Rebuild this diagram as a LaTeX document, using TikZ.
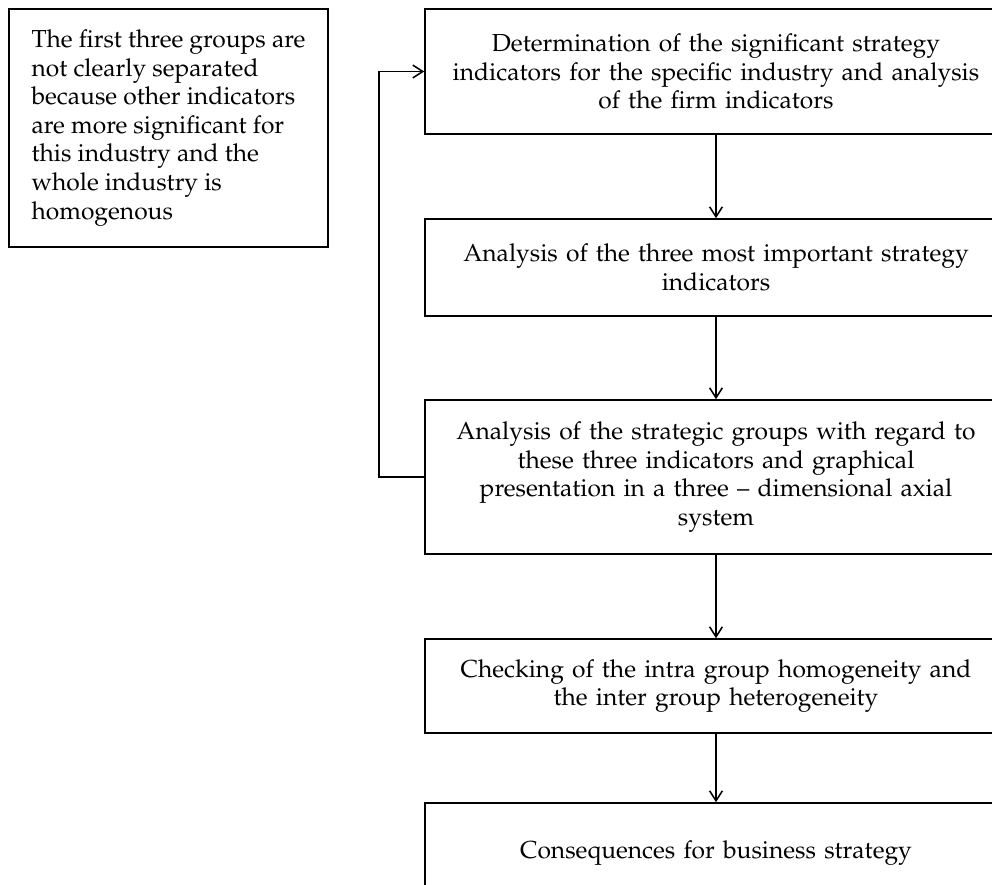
\documentclass[tikz,border=0pt]{standalone}
\usepackage[T1]{fontenc}
\usepackage{mathpazo}
\usetikzlibrary{arrows.meta}

\begin{document}
\begin{tikzpicture}[
			stage/.style = {draw, line width=1.1pt, minimum width=14.55cm, text width=14cm, inner xsep=0.275cm, align=center, font=\fontsize{17.5}{20.3}\selectfont},
			note/.style = {draw, line width=1.1pt, minimum width=7.975cm, minimum height=5.95cm, align=left, font=\fontsize{17.5}{20.3}\selectfont},
			flow/.style = {-{Straight Barb[length=2.5mm, width=3.2mm]}, line width=1.1pt}]
			\useasboundingbox (0,0) rectangle (24.8,-22.1);

			\node[note] (remark) at (4.2125,-3.2) {The first three groups are\\not clearly separated\\because other indicators\\are more significant for\\this industry and the\\whole industry is\\homogenous};

			\node[stage, minimum height=3.125cm] (indicators) at (17.9,-1.7875) {Determination of the significant strategy\\indicators for the specific industry and analysis\\of the firm indicators};
			\node[stage, minimum height=2.425cm] (threemost) at (17.9,-6.6875) {Analysis of the three most important strategy\\indicators};
			\node[stage, minimum height=3.85cm] (groups) at (17.9,-11.925) {Analysis of the strategic groups with regard to\\these three indicators and graphical\\presentation in a three -- dimensional axial\\system};
			\node[stage, minimum height=2.35cm] (checking) at (17.9,-17.15) {Checking of the intra group homogeneity and\\the inter group heterogeneity};
			\node[stage, minimum height=2.5cm] (consequences) at (17.9,-21.325) {Consequences for business strategy};

			\draw[flow] (indicators) -- (threemost);
			\draw[flow] (threemost) -- (groups);
			\draw[flow] (groups) -- (checking);
			\draw[flow] (checking) -- (consequences);
			\draw[flow] (groups.west) -- ++(-1.125,0) |- (indicators.west);
\end{tikzpicture}
\end{document}
